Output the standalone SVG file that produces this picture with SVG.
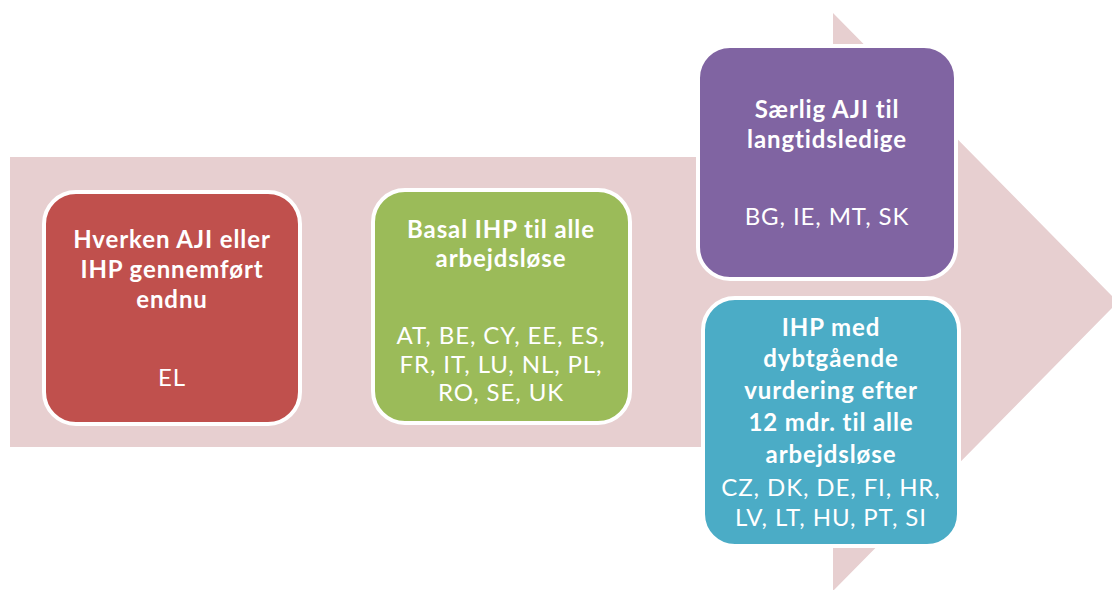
<svg xmlns="http://www.w3.org/2000/svg" width="1112" height="590" viewBox="0 0 1112 590">
<style>
.box{stroke:#ffffff;stroke-width:4}
.t{font-family:Lato,"Liberation Sans",sans-serif;font-size:24px;letter-spacing:0.9px;fill:#ffffff;text-anchor:middle;font-variant-ligatures:none}
.b{font-weight:bold}
</style>
<rect width="1112" height="590" fill="#ffffff"/>
<g id="arrow">
<polygon points="10,157 833,157 833,13 1118,302 833,591 833,447 10,447" fill="#E7CFD0"/>
</g>
<g id="connectors"></g>
<g id="node1">
<rect class="box" x="44" y="192" width="256" height="232" rx="32" fill="#C0504D"/>
<text class="t b" x="172" y="248">Hverken AJI eller</text>
<text class="t b" x="172" y="278">IHP gennemført</text>
<text class="t b" x="172" y="308">endnu</text>
<text class="t" x="172" y="386">EL</text>
</g>
<g id="node2">
<rect class="box" x="373" y="190" width="257" height="233" rx="32" fill="#9BBB59"/>
<text class="t b" x="501" y="238">Basal IHP til alle</text>
<text class="t b" x="501" y="267">arbejdsløse</text>
<text class="t" x="501" y="344">AT, BE, CY, EE, ES,</text>
<text class="t" x="501" y="373">FR, IT, LU, NL, PL,</text>
<text class="t" x="501" y="401">RO, SE, UK</text>
</g>
<g id="node3">
<rect class="box" x="698" y="46" width="258" height="233" rx="32" fill="#8064A2"/>
<text class="t b" x="827" y="118">Særlig AJI til</text>
<text class="t b" x="827" y="148">langtidsledige</text>
<text class="t" x="827" y="225">BG, IE, MT, SK</text>
</g>
<g id="node4">
<rect class="box" x="703" y="298" width="256" height="248" rx="32" fill="#4BACC6"/>
<text class="t b" x="831" y="336">IHP med</text>
<text class="t b" x="831" y="367">dybtgående</text>
<text class="t b" x="831" y="399">vurdering efter</text>
<text class="t b" x="831" y="431">12 mdr. til alle</text>
<text class="t b" x="831" y="463">arbejdsløse</text>
<text class="t" x="831" y="496">CZ, DK, DE, FI, HR,</text>
<text class="t" x="831" y="526">LV, LT, HU, PT, SI</text>
</g>
</svg>
